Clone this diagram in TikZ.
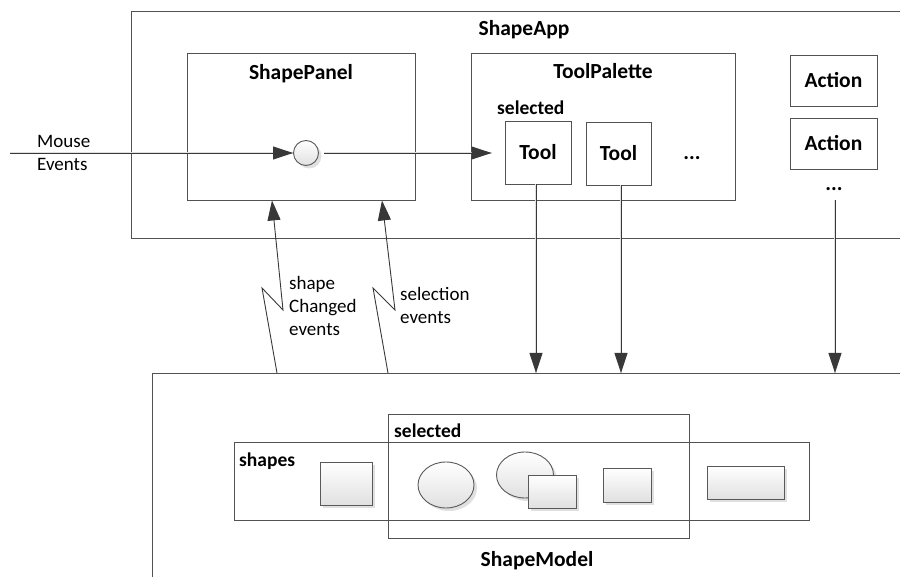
\documentclass[tikz,border=0pt]{standalone}
\usepackage{fontspec}
\setmainfont{Carlito}
\usetikzlibrary{arrows.meta,shapes.geometric,shadows,calc}

\begin{document}
\begin{tikzpicture}[x=1pt,y=-1pt,
  frame/.style={draw=black!68, line width=0.9pt},
  box/.style={frame, inner sep=0pt},
  title/.style={font=\fontsize{21.5}{26}\selectfont\bfseries, inner sep=0pt},
  subtitle/.style={font=\fontsize{19.5}{23}\selectfont\bfseries, inner sep=0pt},
  lbl/.style={font=\fontsize{19}{23}\selectfont, inner sep=0pt, align=left},
  conn/.style={draw=black!78, line width=0.9pt},
  connshadow/.style={draw=black!12, line width=1.6pt},
  tip/.style={-{Triangle[length=20pt,width=13pt]}},
  item/.style={draw=black!65, line width=0.9pt, top color=white,
    bottom color=black!12, inner sep=0pt,
    drop shadow={shadow xshift=3pt, shadow yshift=-3pt, fill=black!12, opacity=1}},
]
\useasboundingbox (0,0) rectangle (900,577);

% ShapeApp container (continues past the right edge)
\draw[frame] (900,11) -- (131,11) -- (131,238) -- (900,238);
\node[title, anchor=base] (apptitle) at (524,36) {ShapeApp};

% ShapePanel
\node[box, minimum width=228pt, minimum height=147pt] (panel) at (301,126.5) {};
\node[title, anchor=base] (paneltitle) at (301,80) {ShapePanel};
\node[item, circle, minimum size=25pt] (port) at (306,153) {};

% ToolPalette
\node[box, minimum width=264pt, minimum height=147pt] (palette) at (603,126.5) {};
\node[title, anchor=base] (palettetitle) at (603,79) {ToolPalette};
\node[subtitle, anchor=base west] (seltool) at (497,115) {selected};
\node[box, title, minimum width=66pt, minimum height=63pt] (tool1) at (538,152.5) {Tool};
\node[box, title, minimum width=65pt, minimum height=63pt] (tool2) at (618.5,153.5) {Tool};
\node[title, anchor=base] (tooldots) at (692,160) {...};

% Actions
\node[box, title, minimum width=87pt, minimum height=51pt] (act1) at (833.5,80.5) {Action};
\node[box, title, minimum width=87pt, minimum height=51pt] (act2) at (833.5,143.5) {Action};
\node[title, anchor=base] (actdots) at (834,191) {...};

% ShapeModel container (continues past the right and bottom edges)
\draw[frame] (900,373) -- (152,373) -- (152,577);
\node[title, anchor=base] (modeltitle) at (537,566) {ShapeModel};
\coordinate (modeltop) at (152,373);

% shapes and selected collections
\node[box, minimum width=575pt, minimum height=78pt] (shapes) at (521.5,481) {};
\node[box, minimum width=301pt, minimum height=124pt] (selected) at (538.5,476) {};
\node[subtitle, anchor=base west] (shapeslbl) at (239,466) {shapes};
\node[subtitle, anchor=base west] (selectedlbl) at (394,437) {selected};

% shape items
\node[item, minimum width=52pt, minimum height=43pt] (sq) at (346,483.5) {};
\node[item, ellipse, minimum width=56pt, minimum height=46pt] (ell1) at (446,485) {};
\node[item, ellipse, minimum width=57pt, minimum height=46pt] (ell2) at (525,475) {};
\node[item, minimum width=48pt, minimum height=33pt] (rect1) at (552,491.5) {};
\node[item, minimum width=48pt, minimum height=34pt] (rect2) at (627,485) {};
\node[item, minimum width=77pt, minimum height=33pt] (rect3) at (745.5,482.5) {};

% connector end points
\coordinate (mousein) at (10,153);
\coordinate (portout) at ($(port.east)+(5,0)$);
\coordinate (toolin) at ($(tool1.west)+(-13,0.5)$);
\coordinate (t1out) at ($(tool1.south)+(-2,0)$);
\coordinate (t2out) at ($(tool2.south)+(2.5,0)$);
\coordinate (aout) at ($(actdots.south)+(1,9)$);
\coordinate (ev1) at (277,373);
\coordinate (ev2) at (388,373);
\coordinate (ev1in) at (272,0);
\coordinate (ev2in) at (382,0);

% soft shadows under the connectors
\begin{scope}[shift={(2.5,2.5)}]
  \draw[connshadow] (t1out) -- (t1out |- modeltop);
  \draw[connshadow] (t2out) -- (t2out |- modeltop);
  \draw[connshadow] (aout) -- (aout |- modeltop);
  \draw[connshadow] (mousein) -- (port.west);
  \draw[connshadow] (portout) -- (toolin);
\end{scope}

% mouse events into the panel and on to the selected tool
\draw[conn, tip] (mousein) -- (port.west);
\draw[conn, tip] (portout) -- (toolin);
\node[lbl, anchor=base west] (mouselbl) at (37,171) {Mouse\\Events};

% tools and actions act on the model
\draw[conn, tip] (t1out) -- (t1out |- modeltop);
\draw[conn, tip] (t2out) -- (t2out |- modeltop);
\draw[conn, tip] (aout) -- (aout |- modeltop);

% model events back to the panel
\draw[conn, tip] (ev1) -- (262,288) -- (283,310) -- (panel.south -| ev1in);
\draw[conn, tip] (ev2) -- (373,288) -- (395,310) -- (panel.south -| ev2in);
\node[lbl, anchor=base west] (chglbl) at (289,336) {shape\\Changed\\events};
\node[lbl, anchor=base west] (sellbl) at (400,324) {selection\\events};
\end{tikzpicture}
\end{document}
